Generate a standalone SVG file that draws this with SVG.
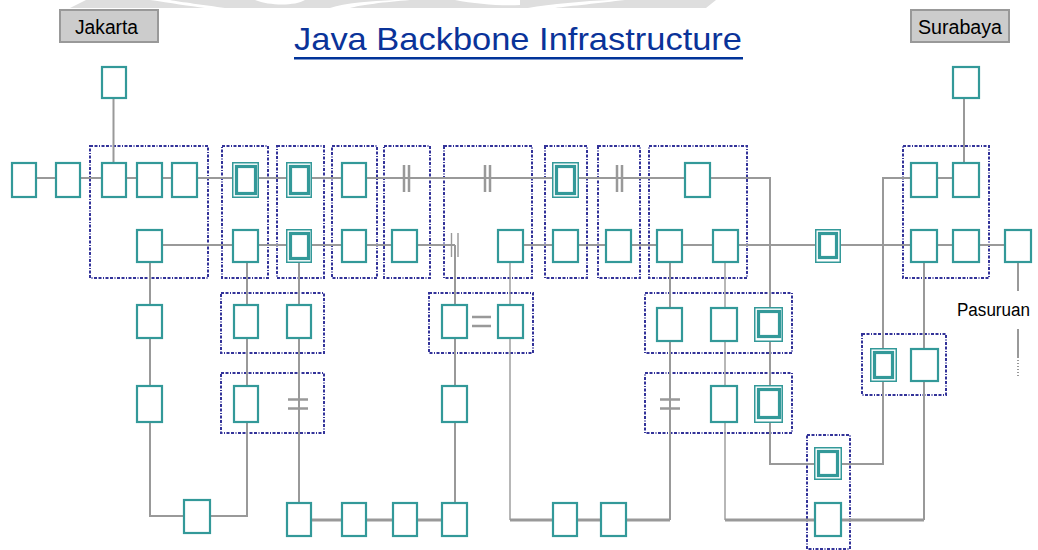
<svg xmlns="http://www.w3.org/2000/svg" width="1038" height="550" viewBox="0 0 1038 550">
<style>
.n{fill:#fff;stroke:#339999;stroke-width:2.2}
.o{fill:#fff;stroke:#339999;stroke-width:1.5}
.i{fill:none;stroke:#339999;stroke-width:3.2}
.grp{fill:none;stroke:#333399;stroke-width:2;stroke-dasharray:3 1.5 3 1.5 1 1.5}
.ln{fill:none;stroke:#999999;stroke-width:2}
.thin{fill:none;stroke:#999999;stroke-width:1.4}
.thk{fill:none;stroke:#999999;stroke-width:3}
.mk{stroke:#999999;stroke-width:2.5}
.lab{fill:#cccccc;stroke:#999999;stroke-width:2}
.lt{font-family:"Liberation Sans",Arial,sans-serif;font-size:20px;fill:#000}
</style>
<rect width="1038" height="550" fill="#fff"/>
<g id="watermark">
<path d="M70,8 L86,0 L716,0 L706,8 Z" fill="#dedede"/>
<path d="M150,0 C170,3 190,6 205,8 L225,8 C205,5 180,2 170,0 Z" fill="#fff"/>
<path d="M255,0 C270,6 295,6 305,0 Z" fill="#fff"/>
<path d="M330,8 C345,3 370,1 395,0 L410,0 C385,2 360,5 350,8 Z" fill="#fff"/>
<path d="M455,0 C475,4 500,6 520,5 L520,0 Z" fill="#fff"/>
<path d="M528,8 C550,4 585,1 610,0 L625,0 C600,3 570,6 555,8 Z" fill="#fff"/>
</g>
<g id="title">
<text x="294" y="50" font-family="'Liberation Sans',Arial,sans-serif" font-size="32" fill="#0a3399" textLength="448" lengthAdjust="spacingAndGlyphs">Java Backbone Infrastructure</text>
<rect x="294" y="57" width="449" height="2.5" fill="#003399"/>
</g>
<g id="jakarta">
<rect class="lab" x="60" y="10" width="98" height="32"/>
<text class="lt" x="75" y="34" textLength="63" lengthAdjust="spacingAndGlyphs">Jakarta</text>
</g>
<g id="surabaya">
<rect class="lab" x="911" y="10" width="98" height="32"/>
<text class="lt" x="918" y="34" textLength="84" lengthAdjust="spacingAndGlyphs">Surabaya</text>
</g>
<g id="pasuruan">
<text class="lt" x="957" y="316" font-size="18" style="font-size:18px" textLength="73" lengthAdjust="spacingAndGlyphs">Pasuruan</text>
</g>
<g id="groups">
<rect class="grp" x="90" y="146" width="118" height="132"/>
<rect class="grp" x="222" y="146" width="46" height="132"/>
<rect class="grp" x="277" y="146" width="47" height="132"/>
<rect class="grp" x="332" y="146" width="45" height="132"/>
<rect class="grp" x="384" y="146" width="46" height="132"/>
<rect class="grp" x="444" y="146" width="88" height="132"/>
<rect class="grp" x="545" y="146" width="42" height="132"/>
<rect class="grp" x="598" y="146" width="42" height="132"/>
<rect class="grp" x="649" y="146" width="98" height="132"/>
<rect class="grp" x="903" y="146" width="86" height="132"/>
<rect class="grp" x="221" y="293" width="103" height="60"/>
<rect class="grp" x="221" y="373" width="103" height="60"/>
<rect class="grp" x="429" y="293" width="104" height="60"/>
<rect class="grp" x="645" y="293" width="147" height="60"/>
<rect class="grp" x="645" y="373" width="147" height="60"/>
<rect class="grp" x="862" y="334" width="84" height="61"/>
<rect class="grp" x="807" y="435" width="43" height="114"/>
</g>
<g id="connectors">
<path class="ln" d="M24 178 H711"/>
<path class="ln" d="M711 178 H770 V464 H883 V178 H966"/>
<path class="ln" d="M113.5 99 V178"/>
<path class="ln" d="M964 99 V178"/>
<path class="ln" d="M150 245 H455"/>
<path class="ln" d="M510 245 H1018"/>
<path class="ln" d="M150 245 V516 H247 V245"/>
<path class="ln" d="M299 245 V520"/>
<path class="ln" d="M455 245 V520"/>
<path class="thk" d="M299 520 H455"/>
<path class="thin" d="M510 245 V520"/>
<path class="thk" d="M510 520 H670"/>
<path class="ln" d="M670 245 V520"/>
<path class="thin" d="M725 245 V520"/>
<path class="thk" d="M725 520 H924"/>
<path class="ln" d="M924 245 V520"/>
<path class="ln" d="M1018 245 V291"/>
<path class="ln" d="M1018 329 V357"/>
<path class="ln" d="M1018 357 V377" stroke-dasharray="1 2"/>
<path class="mk" d="M404 165 V192 M409 165 V192 M485 165 V192 M490 165 V192 M617 165 V192 M622 165 V192"/>
<path stroke="#999999" stroke-width="1.4" d="M451.5 233 V257 M458 233 V257"/>
<path class="mk" d="M288 399.5 H308 M288 408.5 H308 M472 317 H491 M472 326 H491 M660 399.5 H680 M660 408.5 H680"/>
</g>
<g id="n-top1"><rect class="n" x="102" y="67" width="24" height="31"/></g>
<g id="n-top2"><rect class="n" x="953" y="67" width="26" height="31"/></g>
<g id="r1-1"><rect class="n" x="12" y="163" width="24" height="34"/></g>
<g id="r1-2"><rect class="n" x="56" y="163" width="24" height="34"/></g>
<g id="r1-3"><rect class="n" x="102" y="163" width="24" height="34"/></g>
<g id="r1-4"><rect class="n" x="137" y="163" width="25" height="34"/></g>
<g id="r1-5"><rect class="n" x="172" y="163" width="25" height="34"/></g>
<g id="r1-6"><rect class="o" x="232.75" y="162.75" width="25.5" height="34.5"/><rect class="i" x="236.5" y="166.5" width="19" height="27"/></g>
<g id="r1-7"><rect class="o" x="286.75" y="162.75" width="24.5" height="34.5"/><rect class="i" x="290.5" y="166.5" width="18" height="27"/></g>
<g id="r1-8"><rect class="n" x="342" y="163" width="24" height="34"/></g>
<g id="r1-9"><rect class="o" x="552.75" y="162.75" width="25.5" height="34.5"/><rect class="i" x="556.5" y="166.5" width="18" height="27"/></g>
<g id="r1-10"><rect class="n" x="685" y="163" width="25" height="34"/></g>
<g id="r1-11"><rect class="n" x="911" y="163" width="26" height="34"/></g>
<g id="r1-12"><rect class="n" x="953" y="163" width="26" height="34"/></g>
<g id="r2-1"><rect class="n" x="137" y="230" width="25" height="32"/></g>
<g id="r2-2"><rect class="n" x="233" y="230" width="25" height="32"/></g>
<g id="r2-3"><rect class="o" x="286.75" y="229.75" width="24.5" height="32.5"/><rect class="i" x="290.5" y="233.5" width="18" height="25"/></g>
<g id="r2-4"><rect class="n" x="342" y="230" width="24" height="32"/></g>
<g id="r2-5"><rect class="n" x="392" y="230" width="25" height="32"/></g>
<g id="r2-6"><rect class="n" x="498" y="230" width="25" height="32"/></g>
<g id="r2-7"><rect class="n" x="553" y="230" width="25" height="32"/></g>
<g id="r2-8"><rect class="n" x="606" y="230" width="25" height="32"/></g>
<g id="r2-9"><rect class="n" x="657" y="230" width="25" height="32"/></g>
<g id="r2-10"><rect class="n" x="713" y="230" width="25" height="32"/></g>
<g id="r2-11"><rect class="o" x="815.75" y="229.75" width="24.5" height="32.5"/><rect class="i" x="819.5" y="233.5" width="17" height="24"/></g>
<g id="r2-12"><rect class="n" x="911" y="230" width="26" height="32"/></g>
<g id="r2-13"><rect class="n" x="953" y="230" width="26" height="32"/></g>
<g id="r2-14"><rect class="n" x="1005" y="230" width="26" height="32"/></g>
<g id="r3-1"><rect class="n" x="137" y="305" width="25" height="33"/></g>
<g id="r3-2"><rect class="n" x="234" y="305" width="24" height="33"/></g>
<g id="r3-3"><rect class="n" x="287" y="305" width="24" height="33"/></g>
<g id="r3-4"><rect class="n" x="442" y="305" width="25" height="33"/></g>
<g id="r3-5"><rect class="n" x="498" y="305" width="25" height="33"/></g>
<g id="r3-6"><rect class="n" x="657" y="308" width="25" height="33"/></g>
<g id="r3-7"><rect class="n" x="711" y="308" width="26" height="33"/></g>
<g id="r3-8"><rect class="o" x="754.75" y="307.75" width="27.5" height="33.5"/><rect class="i" x="758.5" y="311.5" width="21" height="25"/></g>
<g id="c-1"><rect class="o" x="870.75" y="348.75" width="25.5" height="32.5"/><rect class="i" x="874.5" y="352.5" width="18" height="25"/></g>
<g id="c-2"><rect class="n" x="911" y="349" width="27" height="32"/></g>
<g id="r4-1"><rect class="n" x="137" y="386" width="25" height="36"/></g>
<g id="r4-2"><rect class="n" x="234" y="386" width="24" height="36"/></g>
<g id="r4-3"><rect class="n" x="442" y="386" width="25" height="36"/></g>
<g id="r4-4"><rect class="n" x="711" y="386" width="26" height="36"/></g>
<g id="r4-5"><rect class="o" x="754.75" y="385.75" width="27.5" height="36.5"/><rect class="i" x="758.5" y="389.5" width="21" height="28"/></g>
<g id="d-1"><rect class="o" x="814.75" y="447.75" width="26.5" height="31.5"/><rect class="i" x="818.5" y="451.5" width="19" height="24"/></g>
<g id="b-1"><rect class="n" x="184" y="500" width="26" height="33"/></g>
<g id="b-2"><rect class="n" x="287" y="503" width="24" height="33"/></g>
<g id="b-3"><rect class="n" x="342" y="503" width="24" height="33"/></g>
<g id="b-4"><rect class="n" x="393" y="503" width="24" height="33"/></g>
<g id="b-5"><rect class="n" x="442" y="503" width="25" height="33"/></g>
<g id="b-6"><rect class="n" x="553" y="503" width="24" height="33"/></g>
<g id="b-7"><rect class="n" x="601" y="503" width="25" height="33"/></g>
<g id="b-8"><rect class="n" x="815" y="503" width="26" height="33"/></g>
</svg>
